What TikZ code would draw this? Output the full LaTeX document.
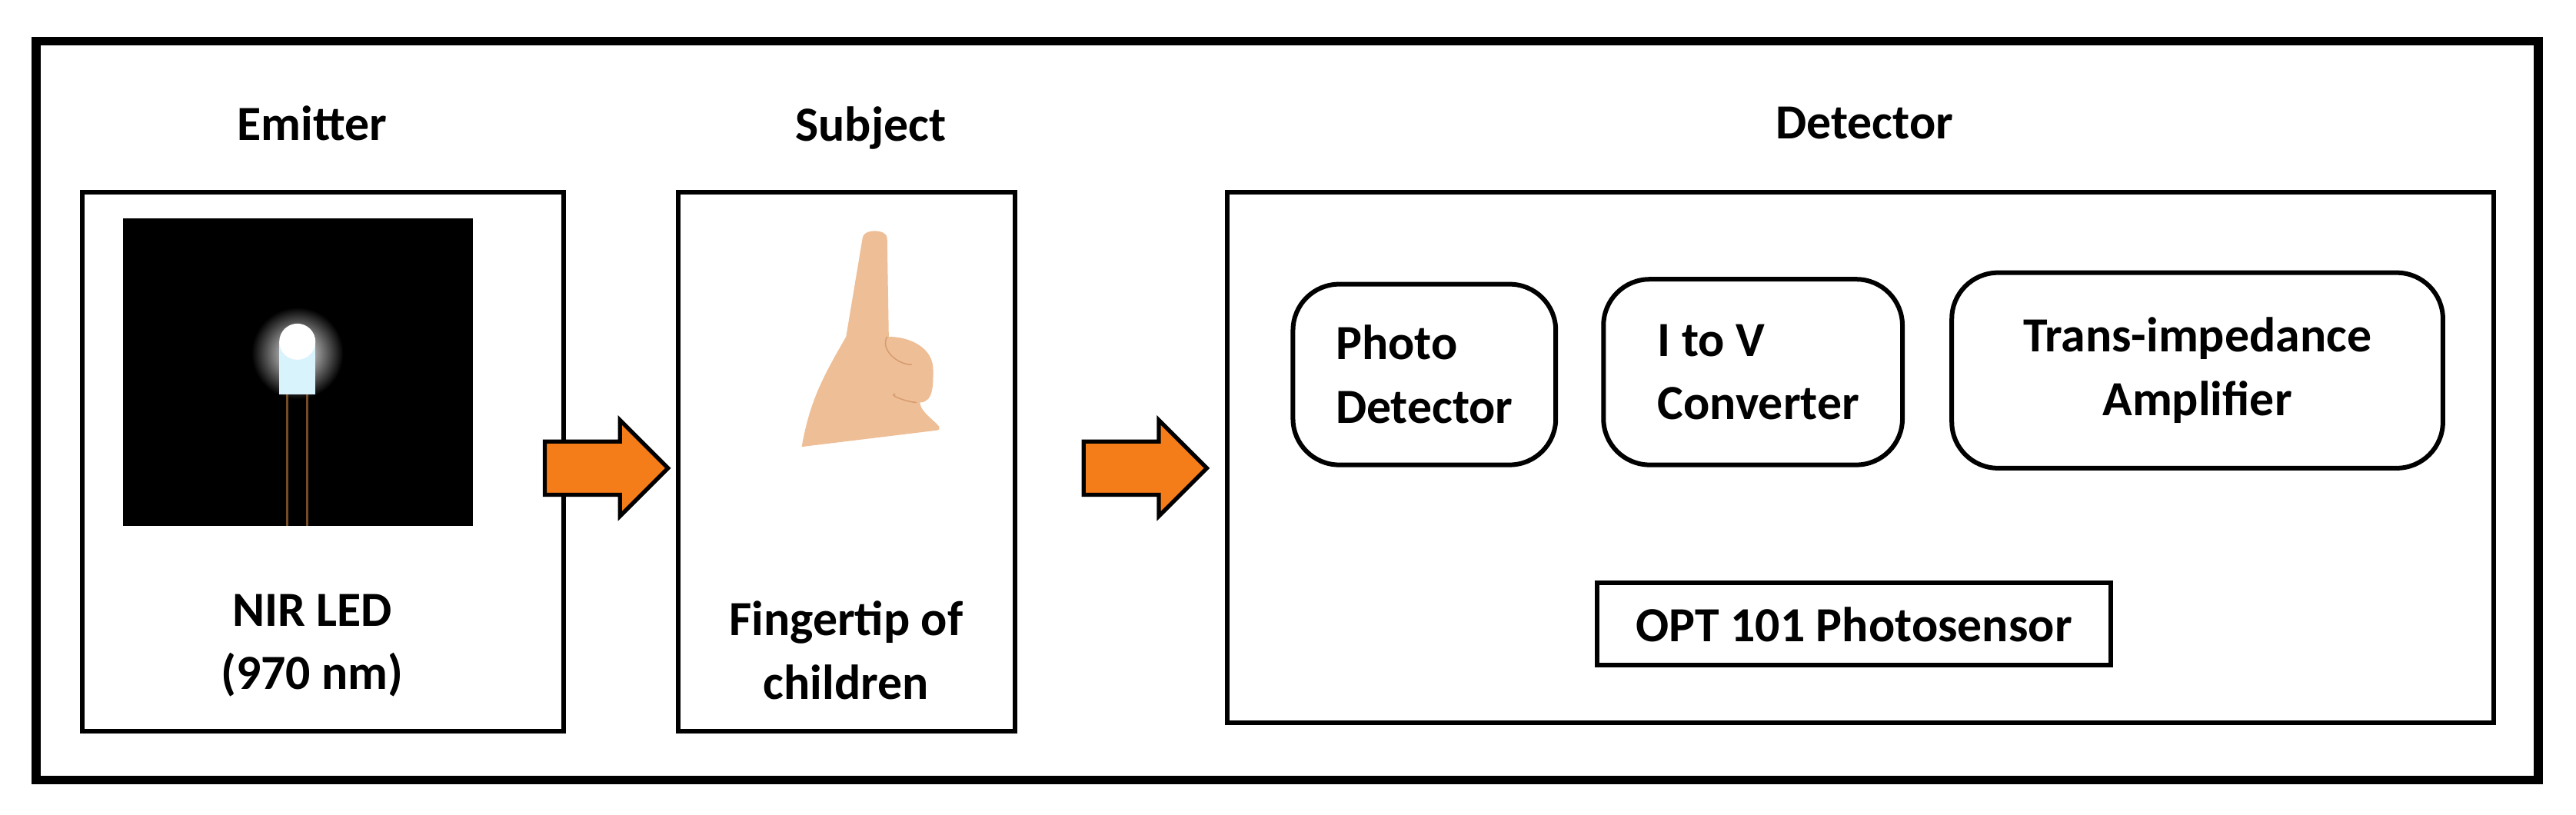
\documentclass[tikz,border=0pt]{standalone}
\usepackage{fontspec}
\setmainfont{Carlito}
\usetikzlibrary{shapes.arrows}
\definecolor{arroworange}{RGB}{245,125,25}
\definecolor{skin}{RGB}{238,190,150}
\definecolor{skindark}{RGB}{215,155,110}

\begin{document}
\begin{tikzpicture}[x=0.02cm,y=-0.02cm,
    every node/.style={font=\fontsize{17}{22}\selectfont\bfseries},
    box/.style={draw,line width=1.6pt},
    unit/.style={draw,line width=1.6pt,rounded corners=16pt,align=left},
    flow/.style={single arrow,draw,line width=1.4pt,fill=arroworange,
                 single arrow head extend=0.26cm,
                 minimum height=1.5cm,inner xsep=0pt,inner ysep=0.3cm}]
        \useasboundingbox (0,0) rectangle (1568,496);
        \draw[line width=3pt] (22,25) rectangle (1545,475);

        % emitter
        \node[box,minimum width=5.86cm,minimum height=6.56cm] (emit) at (196.5,281) {};
        \node (emitT) at (190,75) {Emitter};
        \fill[black] (75,133) rectangle (288,320);
        \shade[inner color=white,outer color=black] (181,215) circle (28);
        \fill[white!85!cyan] (170,208) rectangle (192,240);
        \fill[white] (181,208) circle (11);
        \draw[brown!60!black,thick] (175,240) -- (175,320) (187,240) -- (187,320);
        \node[align=center] (led) at (190,393) {NIR LED\\(970 nm)};

        % subject
        \node[box,minimum width=4.1cm,minimum height=6.56cm] (subj) at (515.5,281) {};
        \node (subjT) at (530,78) {Subject};
        \fill[skin] (525,145) to[out=90,in=90] (540,145) -- (541,205)
            to[out=0,in=90] (568,225) to[out=-90,in=0] (560,245)
            to[out=-90,in=10] (570,262) -- (488,272) to[out=80,in=-120] (515,205) -- cycle;
        \draw[skindark] (540,205) to[out=-120,in=180] (555,222)
            (545,240) to[out=180,in=180] (558,245);
        \node[align=center] (finger) at (515,396) {Fingertip of\\children};

        % detector
        \node[box,minimum width=15.42cm,minimum height=6.46cm] (det) at (1132.5,278.5) {};
        \node (detT) at (1135,75) {Detector};
        \node[unit,minimum width=3.2cm,minimum height=2.2cm] (pd) at (867,228) {Photo\\Detector};
        \node[unit,minimum width=3.64cm,minimum height=2.26cm] (iv) at (1067,226.5) {\ I to V\\\ Converter};
        \node[unit,minimum width=5.98cm,minimum height=2.38cm,align=center] (tia) at (1337.5,225.5) {Trans-impedance\\Amplifier};
        \node[draw,line width=1.6pt,minimum width=6.26cm,minimum height=1cm] (opt) at (1128.5,380) {OPT 101 Photosensor};

        % flow
        \node[flow] (a1) at (361,285) {};
        \node[flow] (a2) at (689,285) {};
\end{tikzpicture}
\end{document}
